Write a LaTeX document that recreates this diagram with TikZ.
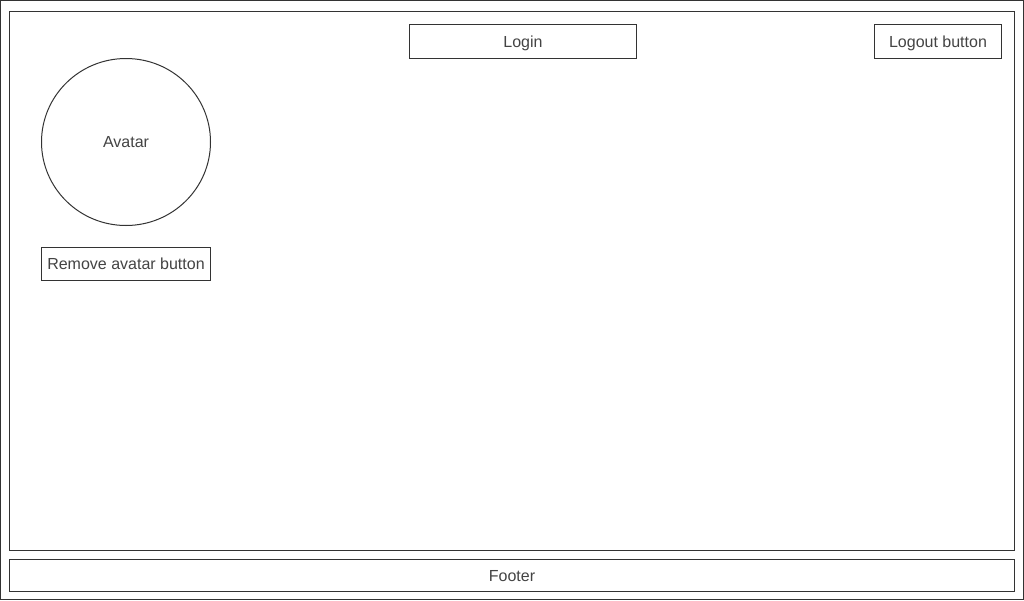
\documentclass[tikz,border=0pt]{standalone}
\usepackage{fontspec}
\setmainfont{Liberation Sans}
\definecolor{linec}{HTML}{333333}
\definecolor{textc}{HTML}{444444}
\begin{document}
\begin{tikzpicture}[x=0.75pt,y=-0.75pt,
  box/.style={draw=linec,line width=0.75pt},
  lbl/.style={text=textc,font=\fontsize{12}{14}\selectfont,inner sep=0pt,text height=8.6pt,text depth=0pt}]
\useasboundingbox (0,0) rectangle (1024,600);
\fill[white] (0,0) rectangle (1024,600);
\draw[box] (0.5,0.5) rectangle (1023.5,599.5);
\draw[box] (9.5,11.5) rectangle (1014.5,550.5);
\draw[box] (9.5,559.5) rectangle (1014.5,591.5);
\node[lbl] (footer) at (512,576) {Footer};
\draw[box] (409.5,24.5) rectangle (636.5,58.5);
\node[lbl] (login) at (523,41.5) {Login};
\draw[box] (874.5,24.5) rectangle (1001.5,58.5);
\node[lbl] (logout) at (938,41.5) {Logout button};
\draw[box] (126,142) ellipse [x radius=84.5, y radius=83.5];
\node[lbl] (avatar) at (126,142) {Avatar};
\draw[box] (41.5,247.5) rectangle (210.5,280.5);
\node[lbl] (remove) at (126,264) {Remove avatar button};
\end{tikzpicture}
\end{document}
